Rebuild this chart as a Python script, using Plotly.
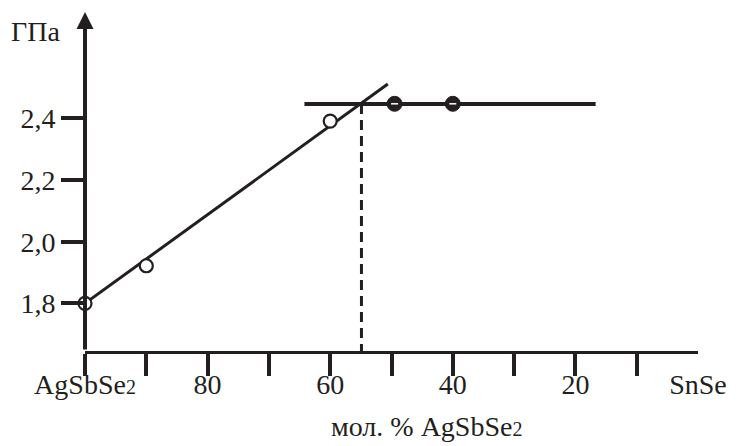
import plotly.graph_objects as go

INK = "#231f20"
FONT = "Liberation Serif"

# data
open_x = [100, 90, 60]
open_y = [1.80, 1.922, 2.391]
filled_x = [49.5, 40]
filled_y = [2.447, 2.447]
fit_x = [100, 50.6]
fit_y = [1.80, 2.511]
plateau_x = [64.2, 16.7]
plateau_y = [2.446, 2.446]
eutectic_x = 54.9

x_range = [100, 0]
y_range = [1.6457, 2.7446]

x_tick_marks = [100, 90, 80, 70, 60, 50, 40, 30, 20, 10]
x_label_vals = [100, 80, 60, 40, 20, 0]
x_label_text = ["AgSbSe<span style='font-size:20px'>2</span>", "80", "60", "40", "20", "SnSe"]
y_tick_vals = [1.8, 2.0, 2.2, 2.4]
y_tick_text = ["1,8", "2,0", "2,2", "2,4"]

fig = go.Figure()

fig.add_trace(go.Scatter(x=fit_x, y=fit_y, mode="lines",
                         line=dict(color=INK, width=3), showlegend=False, hoverinfo="skip"))
fig.add_trace(go.Scatter(x=plateau_x, y=plateau_y, mode="lines",
                         line=dict(color=INK, width=4), showlegend=False, hoverinfo="skip"))
fig.add_trace(go.Scatter(x=[eutectic_x, eutectic_x], y=[plateau_y[0], y_range[0]], mode="lines",
                         line=dict(color=INK, width=3, dash="10px,6px"), showlegend=False, hoverinfo="skip"))
fig.add_trace(go.Scatter(x=open_x, y=open_y, mode="markers",
                         marker=dict(symbol="circle", size=13, color="white",
                                     line=dict(color=INK, width=2.2)),
                         showlegend=False, cliponaxis=False))
fig.add_trace(go.Scatter(x=filled_x, y=filled_y, mode="markers",
                         marker=dict(symbol="circle", size=15, color=INK,
                                     line=dict(color=INK, width=1)),
                         showlegend=False, cliponaxis=False))
# small light marks on the filled (hatched) points
fig.add_trace(go.Scatter(x=filled_x, y=filled_y, mode="markers",
                         marker=dict(symbol="line-ew", size=5, color="white",
                                     line=dict(color="white", width=1.5)),
                         showlegend=False, hoverinfo="skip", cliponaxis=False))
# invisible trace for the label axis
fig.add_trace(go.Scatter(x=x_label_vals, y=[y_range[0]] * len(x_label_vals), xaxis="x2",
                         mode="markers", marker=dict(opacity=0), showlegend=False, hoverinfo="skip"))

fig.update_layout(
    width=739, height=446,
    margin=dict(l=85, r=31, t=12, b=95),
    paper_bgcolor="white", plot_bgcolor="white",
    font=dict(family=FONT, size=28, color=INK),
    xaxis=dict(range=x_range, tickvals=x_tick_marks, showticklabels=False,
               ticks="outside", ticklen=22, tickwidth=3.5, tickcolor=INK,
               showline=True, linewidth=3, linecolor=INK, showgrid=False, zeroline=False),
    xaxis2=dict(range=x_range, overlaying="x", anchor="y", side="bottom",
                tickvals=x_label_vals, ticktext=x_label_text, ticks="",
                ticklabelstandoff=14,
                showline=False, showgrid=False, zeroline=False,
                tickfont=dict(family=FONT, size=28, color=INK)),
    yaxis=dict(range=y_range, tickvals=y_tick_vals, ticktext=y_tick_text,
               ticks="outside", ticklen=23, tickwidth=3.5, tickcolor=INK,
               showline=False, showgrid=False, zeroline=False,
               tickfont=dict(family=FONT, size=28, color=INK)),
)

# y axis drawn as an arrow
fig.add_annotation(x=100, y=y_range[1], ax=100, ay=y_range[0], xref="x", yref="y",
                   axref="x", ayref="y", text="", showarrow=True,
                   arrowhead=2, arrowsize=0.85, arrowwidth=4, arrowcolor=INK)
fig.add_annotation(x=-0.037, xref="paper", xanchor="right", y=2.68, yref="y", yanchor="middle",
                   text="ГПа", showarrow=False, font=dict(family=FONT, size=28, color=INK))
fig.add_annotation(x=44.3, xref="x", xanchor="center", y=-0.222, yref="paper", yanchor="middle",
                   text="мол. % AgSbSe<span style='font-size:20px'>2</span>", showarrow=False,
                   font=dict(family=FONT, size=28, color=INK))

fig.write_html("out.html")
